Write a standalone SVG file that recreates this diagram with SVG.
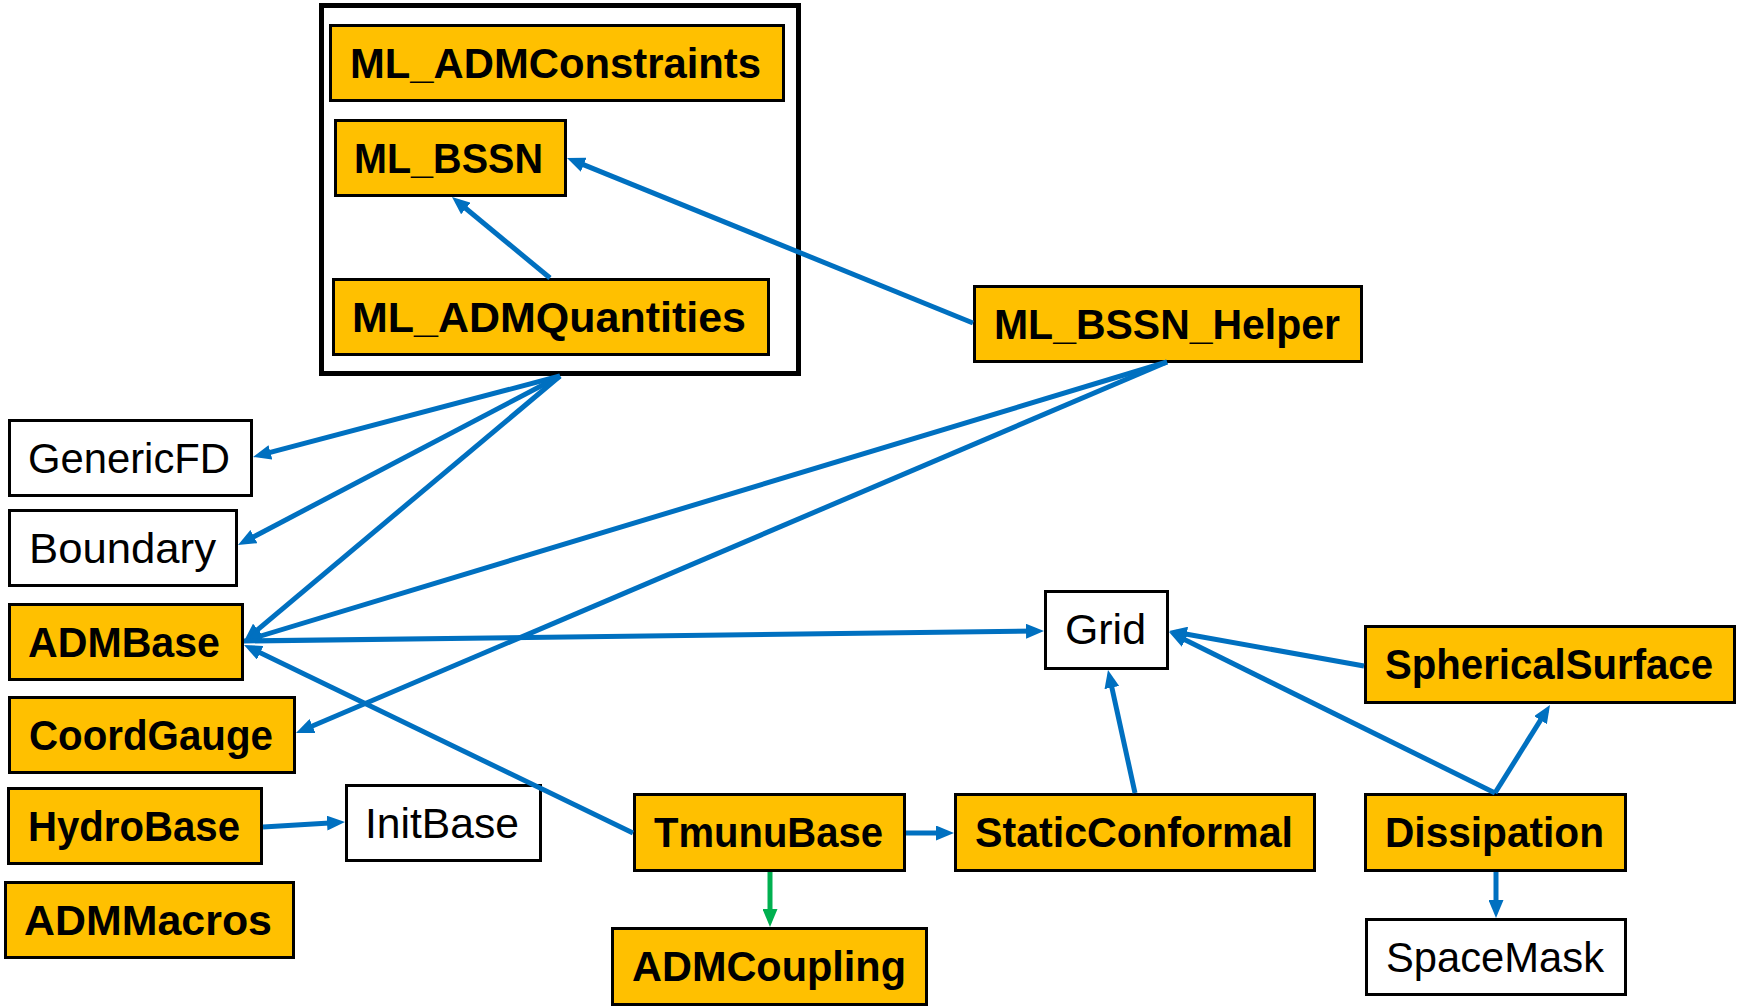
<svg xmlns="http://www.w3.org/2000/svg" width="1739" height="1006" viewBox="0 0 1739 1006">
<style>
.b{fill:#FFC000;stroke:#000;stroke-width:3}
.w{fill:#fff;stroke:#000;stroke-width:3}
text{font-family:"Liberation Sans",Arial,sans-serif;font-size:42px;text-anchor:middle;fill:#000}
.t{font-weight:bold}
.c line{stroke:#0070C0;stroke-width:5;marker-end:url(#ab)}
.c line.g{stroke:#00B050;marker-end:url(#ag)}
</style>
<defs>
<marker id="ab" markerUnits="userSpaceOnUse" markerWidth="18" markerHeight="15" viewBox="0 0 18 15" refX="11" refY="7.5" orient="auto"><path d="M0,0 L18,7.5 L0,15 z" fill="#0070C0"/></marker>
<marker id="ag" markerUnits="userSpaceOnUse" markerWidth="18" markerHeight="15" viewBox="0 0 18 15" refX="11" refY="7.5" orient="auto"><path d="M0,0 L18,7.5 L0,15 z" fill="#00B050"/></marker>
</defs>
<rect id="ml-group" x="321.5" y="5.5" width="477" height="368" fill="#fff" stroke="#000" stroke-width="5"/>
<g id="ML_ADMConstraints"><rect class="b" x="330.5" y="25.5" width="453" height="75"/><text class="t" x="555.5" y="78" textLength="411" lengthAdjust="spacingAndGlyphs">ML_ADMConstraints</text></g>
<g id="ML_BSSN"><rect class="b" x="335.5" y="120.5" width="230" height="75"/><text class="t" x="448.5" y="173" textLength="189" lengthAdjust="spacingAndGlyphs">ML_BSSN</text></g>
<g id="ML_ADMQuantities"><rect class="b" x="333.5" y="279.5" width="435" height="75"/><text class="t" x="549" y="332" textLength="394" lengthAdjust="spacingAndGlyphs">ML_ADMQuantities</text></g>
<g id="ML_BSSN_Helper"><rect class="b" x="974.5" y="286.5" width="387" height="75"/><text class="t" x="1167" y="339" textLength="346" lengthAdjust="spacingAndGlyphs">ML_BSSN_Helper</text></g>
<g id="GenericFD"><rect class="w" x="9.5" y="420.5" width="242" height="75"/><text x="129" y="473" textLength="202" lengthAdjust="spacingAndGlyphs">GenericFD</text></g>
<g id="Boundary"><rect class="w" x="9.5" y="510.5" width="227" height="75"/><text x="122.5" y="563" textLength="187" lengthAdjust="spacingAndGlyphs">Boundary</text></g>
<g id="ADMBase"><rect class="b" x="9.5" y="604.5" width="233" height="75"/><text class="t" x="124" y="657" textLength="192" lengthAdjust="spacingAndGlyphs">ADMBase</text></g>
<g id="CoordGauge"><rect class="b" x="9.5" y="697.5" width="285" height="75"/><text class="t" x="151" y="750" textLength="244" lengthAdjust="spacingAndGlyphs">CoordGauge</text></g>
<g id="HydroBase"><rect class="b" x="8.5" y="788.5" width="253" height="75"/><text class="t" x="134" y="841" textLength="212" lengthAdjust="spacingAndGlyphs">HydroBase</text></g>
<g id="ADMMacros"><rect class="b" x="5.5" y="882.5" width="288" height="75"/><text class="t" x="148" y="935" textLength="248" lengthAdjust="spacingAndGlyphs">ADMMacros</text></g>
<g id="InitBase"><rect class="w" x="346.5" y="785.5" width="194" height="75"/><text x="442" y="838" textLength="154" lengthAdjust="spacingAndGlyphs">InitBase</text></g>
<g id="TmunuBase"><rect class="b" x="634.5" y="794.5" width="270" height="76"/><text class="t" x="768.5" y="847" textLength="229" lengthAdjust="spacingAndGlyphs">TmunuBase</text></g>
<g id="StaticConformal"><rect class="b" x="955.5" y="794.5" width="359" height="76"/><text class="t" x="1134" y="847" textLength="318" lengthAdjust="spacingAndGlyphs">StaticConformal</text></g>
<g id="ADMCoupling"><rect class="b" x="612.5" y="928.5" width="314" height="76"/><text class="t" x="769" y="981" textLength="274" lengthAdjust="spacingAndGlyphs">ADMCoupling</text></g>
<g id="Grid"><rect class="w" x="1045.5" y="591.5" width="122" height="77"/><text x="1105.5" y="644" textLength="81" lengthAdjust="spacingAndGlyphs">Grid</text></g>
<g id="SphericalSurface"><rect class="b" x="1365.5" y="626.5" width="369" height="76"/><text class="t" x="1549" y="679" textLength="328" lengthAdjust="spacingAndGlyphs">SphericalSurface</text></g>
<g id="Dissipation"><rect class="b" x="1365.5" y="794.5" width="260" height="76"/><text class="t" x="1494.5" y="847" textLength="219" lengthAdjust="spacingAndGlyphs">Dissipation</text></g>
<g id="SpaceMask"><rect class="w" x="1366.5" y="919.5" width="259" height="75"/><text x="1495" y="972" textLength="218" lengthAdjust="spacingAndGlyphs">SpaceMask</text></g>
<g id="connectors" class="c">
<line x1="550" y1="278" x2="457.4" y2="201.5"/>
<line x1="973" y1="323" x2="573.5" y2="160.6"/>
<line x1="560" y1="376" x2="259.8" y2="455.2"/>
<line x1="560" y1="376" x2="244.2" y2="541.7"/>
<line x1="560" y1="376" x2="249.4" y2="636.5"/>
<line x1="1167" y1="362" x2="250.7" y2="639"/>
<line x1="1167" y1="362" x2="302.4" y2="730.3"/>
<line x1="244" y1="641" x2="1037" y2="631.1"/>
<line x1="633" y1="833" x2="250.3" y2="648"/>
<line x1="263" y1="827" x2="338" y2="822.4"/>
<line x1="906" y1="833" x2="947" y2="833"/>
<line class="g" x1="770" y1="872" x2="770" y2="920"/>
<line x1="1135" y1="793" x2="1109.5" y2="676.8"/>
<line x1="1364" y1="666" x2="1175.9" y2="632.2"/>
<line x1="1495" y1="793" x2="1175.3" y2="635.1"/>
<line x1="1495" y1="793" x2="1546.3" y2="710.9"/>
<line x1="1496" y1="872" x2="1496" y2="911"/>
</g>
</svg>
